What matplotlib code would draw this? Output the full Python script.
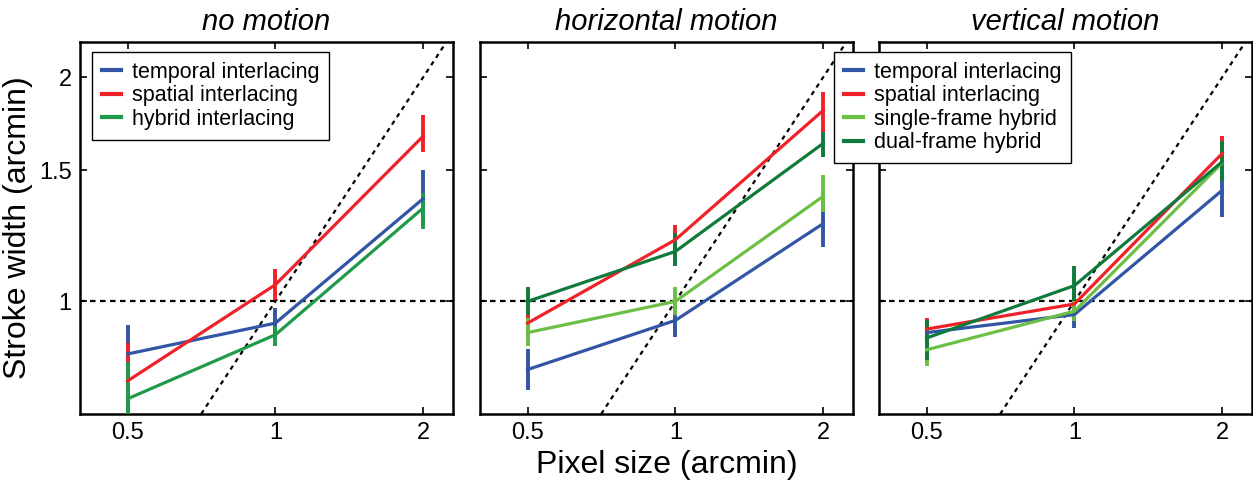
import matplotlib
matplotlib.use('Agg')
import matplotlib.pyplot as plt
from matplotlib.ticker import FixedLocator, FixedFormatter, NullLocator

plt.rcParams['font.family'] = ['Liberation Sans', 'DejaVu Sans']

pixel_sizes = [0.5, 1, 2]
x_tick_labels = ['0.5', '1', '2']
y_ticks = [1, 1.5, 2]
y_tick_labels = ['1', '1.5', '2']
panel_titles = ['no motion', 'horizontal motion', 'vertical motion']

# --- no motion ---
nm_temporal = [0.85, 0.935, 1.374]
nm_temporal_lo = [0.797, 0.90, 1.28]
nm_temporal_hi = [0.93, 0.98, 1.50]
nm_spatial = [0.782, 1.053, 1.667]
nm_spatial_lo = [0.68, 1.005, 1.586]
nm_spatial_hi = [0.88, 1.105, 1.78]
nm_hybrid = [0.74, 0.902, 1.335]
nm_hybrid_lo = [0.68, 0.87, 1.25]
nm_hybrid_hi = [0.83, 0.926, 1.40]

# --- horizontal motion ---
hm_temporal = [0.81, 0.943, 1.272]
hm_temporal_lo = [0.761, 0.896, 1.183]
hm_temporal_hi = [0.863, 0.985, 1.363]
hm_spatial = [0.935, 1.21, 1.805]
hm_spatial_lo = [0.888, 1.155, 1.69]
hm_spatial_hi = [0.98, 1.268, 1.91]
hm_single = [0.908, 1.0, 1.384]
hm_single_lo = [0.87, 0.96, 1.32]
hm_single_hi = [0.95, 1.047, 1.48]
hm_dual = [1.0, 1.167, 1.63]
hm_dual_lo = [0.96, 1.114, 1.564]
hm_dual_hi = [1.047, 1.236, 1.69]

# --- vertical motion ---
vm_temporal = [0.908, 0.96, 1.41]
vm_temporal_lo = [0.861, 0.921, 1.30]
vm_temporal_hi = [0.94, 0.98, 1.50]
vm_spatial = [0.918, 0.992, 1.58]
vm_spatial_lo = [0.87, 0.955, 1.49]
vm_spatial_hi = [0.95, 1.04, 1.67]
vm_single = [0.861, 0.97, 1.535]
vm_single_lo = [0.818, 0.94, 1.47]
vm_single_hi = [0.897, 1.0, 1.60]
vm_dual = [0.893, 1.05, 1.54]
vm_dual_lo = [0.835, 1.0, 1.45]
vm_dual_hi = [0.945, 1.115, 1.64]

BLUE = '#3355a5'
RED = '#ee2228'
GREEN = '#1f9a48'
LGREEN = '#6cbf45'
DGREEN = '#107a3c'

panels = [
    [('temporal interlacing', BLUE, nm_temporal, nm_temporal_lo, nm_temporal_hi),
     ('spatial interlacing', RED, nm_spatial, nm_spatial_lo, nm_spatial_hi),
     ('hybrid interlacing', GREEN, nm_hybrid, nm_hybrid_lo, nm_hybrid_hi)],
    [('temporal interlacing', BLUE, hm_temporal, hm_temporal_lo, hm_temporal_hi),
     ('spatial interlacing', RED, hm_spatial, hm_spatial_lo, hm_spatial_hi),
     ('single-frame hybrid', LGREEN, hm_single, hm_single_lo, hm_single_hi),
     ('dual-frame hybrid', DGREEN, hm_dual, hm_dual_lo, hm_dual_hi)],
    [('temporal interlacing', BLUE, vm_temporal, vm_temporal_lo, vm_temporal_hi),
     ('spatial interlacing', RED, vm_spatial, vm_spatial_lo, vm_spatial_hi),
     ('single-frame hybrid', LGREEN, vm_single, vm_single_lo, vm_single_hi),
     ('dual-frame hybrid', DGREEN, vm_dual, vm_dual_lo, vm_dual_hi)],
]

W, H = 1253, 482
fig = plt.figure(figsize=(W / 100, H / 100), dpi=100)
lefts = [80, 480, 879]
ax_w = 373
top, bottom = 42, 414
axes = []
for i, lx in enumerate(lefts):
    ax = fig.add_axes([lx / W, 1 - bottom / H, ax_w / W, (bottom - top) / H])
    axes.append(ax)

all_handles = []
all_labels = []
for i, ax in enumerate(axes):
    ax.set_xscale('log')
    ax.set_yscale('log')
    ax.set_xlim(0.4, 2.3)
    ax.set_ylim(0.706, 2.23)
    ax.axhline(1, color='black', lw=1.6, ls=(0, (2.5, 2)), zorder=1)
    ax.axline((1, 1), (2, 2), color='black', lw=1.6, ls=(0, (2, 2)), zorder=1)
    handles, labels = [], []
    for label, color, y, lo, hi in panels[i]:
        yerr = [[v - l for v, l in zip(y, lo)], [h - v for v, h in zip(y, hi)]]
        eb = ax.errorbar(pixel_sizes, y, yerr=yerr, color=color, lw=2.3,
                         elinewidth=2.8, capsize=0, zorder=3)
        handles.append(eb.lines[0])
        labels.append(label)
    all_handles.append(handles)
    all_labels.append(labels)
    ax.xaxis.set_major_locator(FixedLocator(pixel_sizes))
    ax.xaxis.set_major_formatter(FixedFormatter(x_tick_labels))
    ax.xaxis.set_minor_locator(NullLocator())
    ax.yaxis.set_major_locator(FixedLocator(y_ticks))
    ax.yaxis.set_minor_locator(NullLocator())
    if i == 0:
        ax.yaxis.set_major_formatter(FixedFormatter(y_tick_labels))
    else:
        ax.yaxis.set_major_formatter(FixedFormatter(['', '', '']))
    ax.tick_params(which='both', direction='in', top=True, right=True,
                   length=5, width=1.2, labelsize=17, pad=6)
    for s in ax.spines.values():
        s.set_linewidth(1.8)
    ax.set_title(panel_titles[i], style='italic', fontsize=21, pad=9)

axes[0].set_ylabel('Stroke width (arcmin)', fontsize=23, labelpad=4)
axes[1].set_xlabel('Pixel size (arcmin)', fontsize=23, labelpad=4)

leg_kw = dict(fontsize=15.5, handlelength=0.9, handletextpad=0.5,
              labelspacing=0.12, borderpad=0.45, borderaxespad=0,
              fancybox=False, edgecolor='black', framealpha=1,
              loc='upper left', bbox_transform=fig.transFigure)
l1 = axes[0].legend(all_handles[0], all_labels[0],
                    bbox_to_anchor=(92 / W, 1 - 52 / H), **leg_kw)
l3 = axes[2].legend(all_handles[2], all_labels[2],
                    bbox_to_anchor=(834 / W, 1 - 52 / H), **leg_kw)
for l in (l1, l3):
    l.get_frame().set_linewidth(1.0)
    for ln in l.get_lines():
        ln.set_linewidth(3)
l3.set_zorder(10)

fig.savefig('out.png', dpi=100)
